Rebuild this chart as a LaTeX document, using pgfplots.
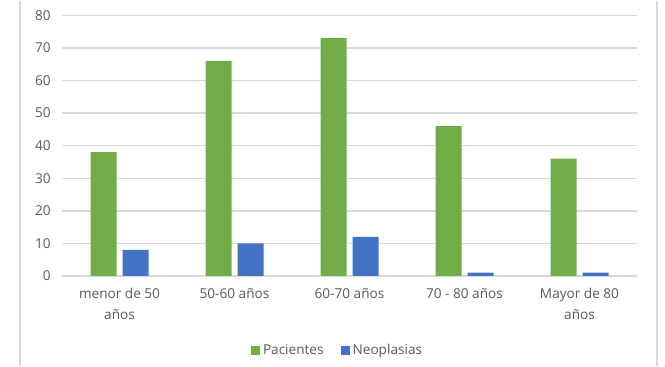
\documentclass[border=0pt]{standalone}
\usepackage{pgfplots}
\pgfplotsset{compat=1.18}
\usepackage{fontspec}
\setmainfont{Open Sans}
\definecolor{cgreen}{HTML}{70AD47}
\definecolor{cblue}{HTML}{4472C4}
\definecolor{cgrid}{HTML}{D9D9D9}
\definecolor{ctext}{HTML}{595959}
\begin{document}
\begin{tikzpicture}
\begin{axis}[
  scale only axis,
  width=431.25pt, height=195.4pt,
  ybar=4.5pt, bar width=19.5pt,
  xmin=-0.5, xmax=4.5,
  ymin=0, ymax=80,
  ytick={0,10,...,80},
  xtick=data,
  xticklabels={{menor de 50\\años},{50-60 años},{60-70 años},{70 - 80 años},{Mayor de 80\\años}},
  xticklabel style={align=center, text=ctext, font=\fontsize{10.2}{15.2}\selectfont, yshift=-6pt},
  yticklabel style={text=ctext, font=\fontsize{10.2}{12}\selectfont, xshift=-5pt},
  /pgf/number format/assume math mode=true,
  axis line style={draw=none},
  major tick length=0pt,
  ymajorgrids, grid style={cgrid, line width=1.1pt},
  legend style={draw=none, at={(0.48,-0.287)}, anchor=center, legend columns=2,
    font=\fontsize{10.2}{12}\selectfont, text=ctext,
    /tikz/every even column/.append style={column sep=11pt}},
  legend image code/.code={\fill[#1] (0pt,-3.4pt) rectangle (6.8pt,3.4pt);},
  clip=false,
]
\addplot[fill=cgreen, draw=none] coordinates {(0,38) (1,66) (2,73) (3,46) (4,36)};
\addplot[fill=cblue, draw=none] coordinates {(0,8) (1,10) (2,12) (3,1) (4,1)};
\legend{Pacientes, Neoplasias}
\draw[cgrid, line width=1.5pt] ([xshift=-31.5pt,yshift=-67.5pt]rel axis cs:0,0) -- ([xshift=-31.5pt,yshift=10.8pt]rel axis cs:0,1);
\draw[cgrid, line width=1.5pt] ([xshift=15pt,yshift=-67.5pt]rel axis cs:1,0) -- ([xshift=15pt,yshift=10.8pt]rel axis cs:1,1);
\useasboundingbox ([xshift=-46.5pt,yshift=-67.5pt]rel axis cs:0,0) rectangle ([xshift=21pt,yshift=10.8pt]rel axis cs:1,1);
\end{axis}
\end{tikzpicture}
\end{document}
